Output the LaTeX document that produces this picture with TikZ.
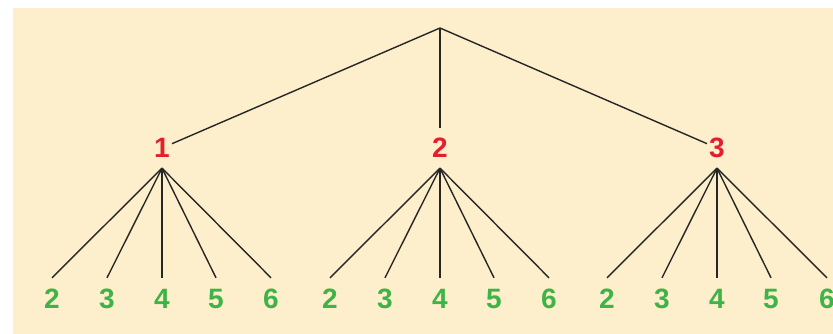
\documentclass[tikz,border=0pt]{standalone}
\usepackage{fontspec}
\setmainfont{Liberation Sans}
\usepackage{xcolor}
\usepackage{tikz}
\usetikzlibrary{positioning}
\definecolor{paper}{RGB}{253,239,203}
\definecolor{firstred}{RGB}{228,30,45}
\definecolor{secondgreen}{RGB}{62,180,72}

\begin{document}
\begin{tikzpicture}[
  x=1pt, y=-1pt,
  every node/.style={font=\fontsize{28}{30}\selectfont\bfseries,
                     text height=20pt, text depth=0pt,
                     inner xsep=2pt, inner ysep=10pt},
  first/.style={text=firstred},
  second/.style={text=secondgreen},
  branch/.style={line width=1.4pt, draw=black!85}
]
\useasboundingbox (0,0) rectangle (833,334);
\fill[paper] (13,8) rectangle (833,334);

% --- Root ---
\coordinate (root) at (440,28);

% --- First choice ---
\node[first] (one)   at (162,148) {1};
\node[first] (two)   at (440,148) {2};
\node[first] (three) at (717,148) {3};

% --- Second choice ---
\node[second] (one-2) at (52,298)  {2};
\node[second] (one-3) at (107,298) {3};
\node[second] (one-4) at (162,298) {4};
\node[second] (one-5) at (216,298) {5};
\node[second] (one-6) at (271,298) {6};

\node[second] (two-2) at (330,298) {2};
\node[second] (two-3) at (385,298) {3};
\node[second] (two-4) at (440,298) {4};
\node[second] (two-5) at (494,298) {5};
\node[second] (two-6) at (549,298) {6};

\node[second] (three-2) at (607,298) {2};
\node[second] (three-3) at (662,298) {3};
\node[second] (three-4) at (717,298) {4};
\node[second] (three-5) at (771,298) {5};
\node[second] (three-6) at (827,298) {6};

% --- Branches ---
\draw[branch] (root) -- (one);
\draw[branch] (root) -- (two.north);
\draw[branch] (root) -- (three);

\draw[branch] (one.south) -- (one-2.north);
\draw[branch] (one.south) -- (one-3.north);
\draw[branch] (one.south) -- (one-4.north);
\draw[branch] (one.south) -- (one-5.north);
\draw[branch] (one.south) -- (one-6.north);

\draw[branch] (two.south) -- (two-2.north);
\draw[branch] (two.south) -- (two-3.north);
\draw[branch] (two.south) -- (two-4.north);
\draw[branch] (two.south) -- (two-5.north);
\draw[branch] (two.south) -- (two-6.north);

\draw[branch] (three.south) -- (three-2.north);
\draw[branch] (three.south) -- (three-3.north);
\draw[branch] (three.south) -- (three-4.north);
\draw[branch] (three.south) -- (three-5.north);
\draw[branch] (three.south) -- (three-6.north);

\end{tikzpicture}
\end{document}
